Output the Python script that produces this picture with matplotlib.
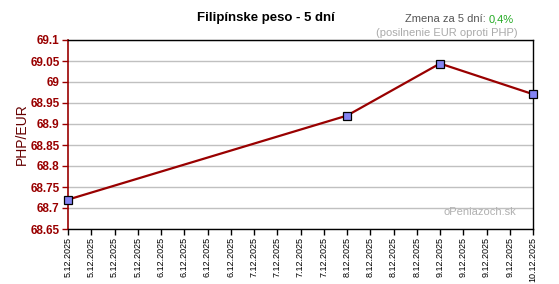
import matplotlib.pyplot as plt
import numpy as np

# data
days = [0, 3, 4, 5]  # days after 5.12.2025
rates = [68.72, 68.92, 69.044, 68.971]
tick_days = ['5.12.2025', '6.12.2025', '7.12.2025', '8.12.2025', '9.12.2025']
last_label = '10.12.2025'
y_ticks = [68.65, 68.7, 68.75, 68.8, 68.85, 68.9, 68.95, 69, 69.05, 69.1]

plt.rcParams['font.family'] = ['Liberation Sans', 'DejaVu Sans']
red = '#990000'

fig = plt.figure(figsize=(5.59, 2.84), dpi=100)
ax = fig.add_axes([68/559, 55/284, 465/559, 189/284])

ax.plot(days, rates, color=red, lw=1.6, zorder=3)
ax.plot(days, rates, ls='none', marker='s', ms=5.5, mfc='#8484f4', mec='black', mew=0.9,
        zorder=4, clip_on=False)

x_pos = np.arange(21) * 0.25
x_labels = []
for d in tick_days:
    x_labels += [d] * 4
x_labels.append(last_label)
ax.set_xticks(x_pos)
ax.set_xticklabels(x_labels, rotation=90, fontsize=6.5)
ax.set_xlim(0, 5)

ax.set_yticks(y_ticks)
ax.set_yticklabels([('%g' % v) for v in y_ticks], fontsize=8.5, fontweight='bold', color=red)
ax.set_ylim(68.65, 69.1)
ax.yaxis.grid(True, color='#c0c0c0', lw=1)
ax.set_axisbelow(True)

ax.tick_params(axis='y', length=4, width=1, color=red, pad=2)
ax.tick_params(axis='x', length=4, width=1, color='black', pad=2)
ax.spines['left'].set_color(red)
ax.spines['left'].set_linewidth(1.2)
for s in ['top', 'right', 'bottom']:
    ax.spines[s].set_color('black')
    ax.spines[s].set_linewidth(1)

ax.set_ylabel('PHP/EUR', fontsize=10, color='#660000', labelpad=4)
ax.yaxis.set_label_coords(-0.085, 0.5)

fig.text(266/559, 1 - 18/284, 'Filipínske peso - 5 dní', ha='center', va='center',
         fontsize=9.5, fontweight='bold')
fig.text(489/559, 1 - 19/284, 'Zmena za 5 dní: ', ha='right', va='center',
         fontsize=8, color='#555555')
fig.text(489/559, 1 - 19/284, '0,4%', ha='left', va='center', fontsize=8, color='#22aa22')
fig.text(518/559, 1 - 33/284, '(posilnenie EUR oproti PHP)', ha='right', va='center',
         fontsize=8, color='#aaaaaa')
ax.text(0.965, 0.09, 'oPeniazoch.sk', transform=ax.transAxes, ha='right', va='center',
        fontsize=8, color='#b0b0b0')

fig.savefig('out.png', dpi=100)
